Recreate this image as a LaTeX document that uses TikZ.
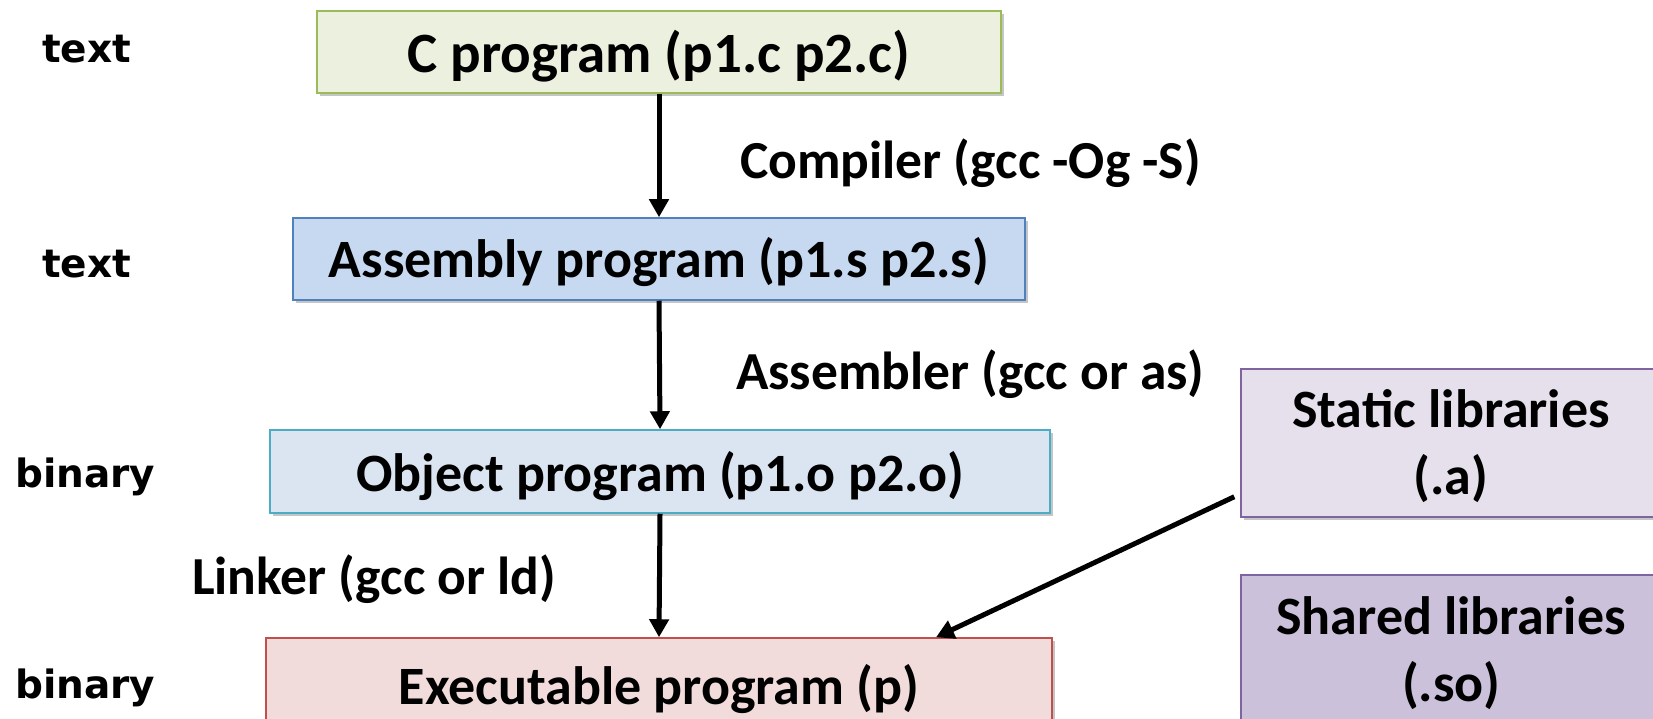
\documentclass[tikz,border=0pt]{standalone}
\usepackage{fontspec}
\setmainfont{Carlito}
\newfontfamily\verd{DejaVu Sans}
\usetikzlibrary{arrows.meta,shadows}
\newcommand\lowr[2]{\raisebox{-#1}[\height][\depth]{#2}}
\begin{document}
\begin{tikzpicture}[x=1pt,y=-1pt,
  box/.style={draw, line width=1.5pt, inner sep=0pt, align=center,
    font=\fontsize{54}{67}\selectfont\bfseries,
    drop shadow={shadow xshift=3pt, shadow yshift=-3pt, fill=black!45, opacity=0.5}},
  lbl/.style={font=\fontsize{53.5}{60}\selectfont\bfseries, inner sep=0pt},
  side/.style={font=\fontsize{39}{44}\selectfont\verd\bfseries, inner sep=0pt, anchor=base west},
  arr/.style={line width=5pt, -{Triangle[length=18pt,width=19pt]}}]
\useasboundingbox (0,0) rectangle (1653,719);
\definecolor{cgF}{HTML}{EBF1DE}\definecolor{cgD}{HTML}{9BBB59}
\definecolor{asF}{HTML}{C6D9F1}\definecolor{asD}{HTML}{4F81BD}
\definecolor{obF}{HTML}{DBE5F1}\definecolor{obD}{HTML}{4BACC6}
\definecolor{exF}{HTML}{F2DCDB}\definecolor{exD}{HTML}{C0504D}
\definecolor{stF}{HTML}{E5E0EC}\definecolor{stD}{HTML}{8064A2}
\definecolor{shF}{HTML}{CCC1DA}\definecolor{shD}{HTML}{8064A2}

\node[box, fill=cgF, draw=cgD, minimum width=684pt, minimum height=82pt, font=\fontsize{57}{67}\selectfont\bfseries] (c) at (659,52) {\lowr{4pt}{C program (p1.c p2.c)}};
\node[box, fill=asF, draw=asD, minimum width=732pt, minimum height=82pt] (asm) at (659,259) {\lowr{3pt}{Assembly program (p1.s p2.s)}};
\node[box, fill=obF, draw=obD, minimum width=780pt, minimum height=83pt] (obj) at (660,471.5) {\lowr{5pt}{Object program (p1.o p2.o)}};
\node[box, fill=exF, draw=exD, minimum width=786pt, minimum height=100pt, text depth=0pt] (exe) at (659,688) {\lowr{-4pt}{Executable program (p)}};
\node[box, fill=stF, draw=stD, minimum width=420pt, minimum height=148pt] (stat) at (1451,443) {\lowr{5pt}{\begin{tabular}{@{}c@{}}Static libraries\\(.a)\end{tabular}}};
\node[box, fill=shF, draw=shD, minimum width=420pt, minimum height=160pt] (shr) at (1451,655) {\lowr{0pt}{\begin{tabular}{@{}c@{}}Shared libraries\\(.so)\end{tabular}}};

\draw[arr] (c.south) -- (asm.north);
\draw[arr] (asm.south) -- (obj.north);
\draw[arr] (obj.south) -- (exe.north);
\draw[arr] ([shift={(-6,-21)}]stat.south west) -- ([xshift=277pt]exe.north);

\node[lbl, anchor=west] (comp) at (740,163) {Compiler (gcc -Og -S)};
\node[lbl, anchor=west] (assm) at (736,374) {Assembler (gcc or as)};
\node[lbl, anchor=west] (link) at (192,579) {Linker (gcc or ld)};

\node[side] (t1) at (42,63) {text};
\node[side] (t2) at (42,277) {text};
\node[side] (b1) at (15,487) {binary};
\node[side] (b2) at (15,698) {binary};
\end{tikzpicture}
\end{document}
